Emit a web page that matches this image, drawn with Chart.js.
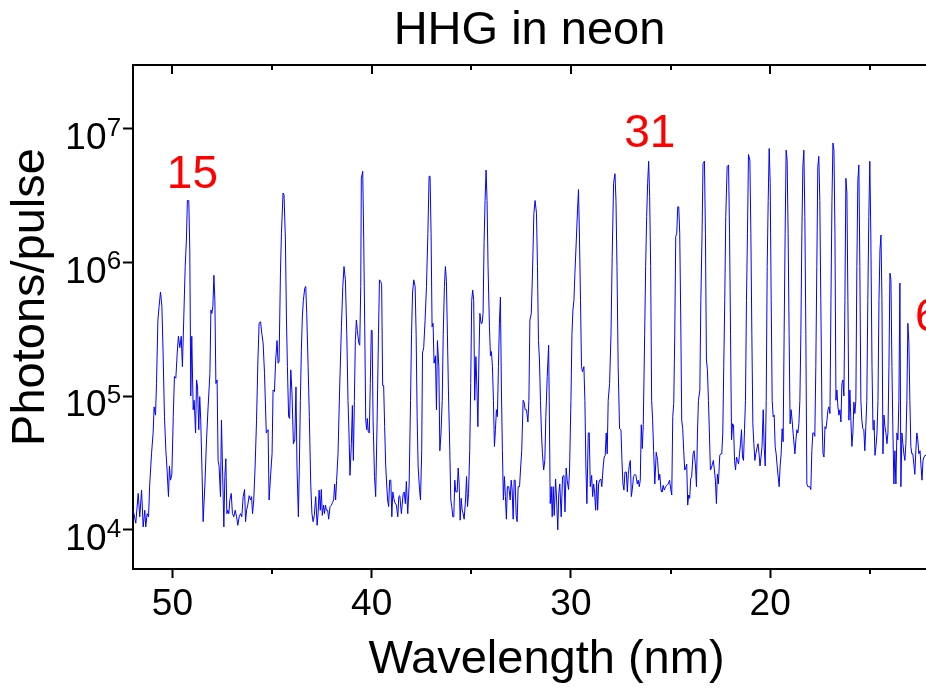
<!DOCTYPE html>
<html>
<head>
<meta charset="utf-8">
<title>HHG in neon</title>
<script src="https://cdn.jsdelivr.net/npm/chart.js@4.4.1/dist/chart.umd.min.js"></script>
<style>
  html, body { margin: 0; padding: 0; background: #fff; }
  #wrap { width: 926px; height: 691px; position: relative; }
</style>
</head>
<body>
<div id="wrap"><canvas id="hhgChart"></canvas></div>
<script>
// wavelength (nm) of each spectrometer sample
const wavelengths = [
  51.97, 51.84, 51.72, 51.64, 51.55, 51.47, 51.39, 51.34, 51.27, 51.20,
  51.14, 51.05, 50.97, 50.92, 50.85, 50.80, 50.73, 50.67, 50.60, 50.53,
  50.47, 50.40, 50.33, 50.27, 50.20, 50.15, 50.10, 50.03, 49.96, 49.90,
  49.83, 49.76, 49.70, 49.63, 49.56, 49.50, 49.43, 49.36, 49.30, 49.25,
  49.18, 49.13, 49.08, 49.03, 48.96, 48.91, 48.84, 48.79, 48.74, 48.68,
  48.63, 48.58, 48.51, 48.46, 48.37, 48.29, 48.21, 48.12, 48.07, 48.02,
  47.97, 47.92, 47.87, 47.82, 47.76, 47.71, 47.66, 47.59, 47.54, 47.49,
  47.42, 47.37, 47.32, 47.27, 47.22, 47.17, 47.12, 47.05, 46.99, 46.92,
  46.85, 46.78, 46.72, 46.65, 46.58, 46.52, 46.45, 46.38, 46.33, 46.28,
  46.22, 46.15, 46.08, 46.03, 45.98, 45.92, 45.85, 45.78, 45.71, 45.65,
  45.58, 45.51, 45.45, 45.38, 45.29, 45.20, 45.15, 45.07, 45.00, 44.95,
  44.88, 44.82, 44.75, 44.70, 44.65, 44.58, 44.53, 44.45, 44.40, 44.33,
  44.28, 44.23, 44.17, 44.12, 44.06, 44.00, 43.93, 43.86, 43.80, 43.75,
  43.68, 43.63, 43.58, 43.53, 43.48, 43.43, 43.36, 43.31, 43.26, 43.19,
  43.13, 43.06, 43.00, 42.94, 42.88, 42.81, 42.74, 42.69, 42.64, 42.58,
  42.53, 42.48, 42.42, 42.37, 42.32, 42.27, 42.21, 42.16, 42.09, 42.02,
  41.97, 41.91, 41.86, 41.81, 41.76, 41.69, 41.61, 41.52, 41.45, 41.39,
  41.32, 41.25, 41.19, 41.14, 41.09, 41.02, 40.97, 40.92, 40.87, 40.82,
  40.77, 40.72, 40.65, 40.60, 40.55, 40.52, 40.45, 40.40, 40.35, 40.30,
  40.25, 40.22, 40.17, 40.12, 40.07, 40.02, 39.98, 39.93, 39.86, 39.80,
  39.73, 39.66, 39.61, 39.55, 39.50, 39.45, 39.40, 39.35, 39.30, 39.25,
  39.20, 39.15, 39.10, 39.04, 38.99, 38.94, 38.89, 38.84, 38.76, 38.69,
  38.64, 38.59, 38.51, 38.42, 38.37, 38.31, 38.26, 38.19, 38.12, 38.05,
  38.00, 37.95, 37.89, 37.82, 37.77, 37.72, 37.67, 37.60, 37.55, 37.49,
  37.45, 37.39, 37.32, 37.25, 37.18, 37.12, 37.07, 37.02, 36.97, 36.92,
  36.87, 36.80, 36.75, 36.70, 36.63, 36.58, 36.52, 36.46, 36.41, 36.35,
  36.30, 36.25, 36.20, 36.15, 36.08, 36.03, 35.98, 35.93, 35.88, 35.83,
  35.78, 35.71, 35.66, 35.61, 35.56, 35.51, 35.46, 35.41, 35.36, 35.29,
  35.24, 35.19, 35.14, 35.08, 35.03, 34.98, 34.93, 34.88, 34.83, 34.77,
  34.72, 34.67, 34.62, 34.57, 34.51, 34.46, 34.41, 34.36, 34.31, 34.26,
  34.21, 34.16, 34.09, 34.04, 33.99, 33.94, 33.89, 33.84, 33.79, 33.74,
  33.69, 33.64, 33.59, 33.54, 33.49, 33.44, 33.39, 33.34, 33.29, 33.24,
  33.19, 33.12, 33.05, 33.00, 32.95, 32.90, 32.85, 32.80, 32.75, 32.70,
  32.65, 32.58, 32.52, 32.47, 32.40, 32.35, 32.30, 32.23, 32.16, 32.11,
  32.06, 31.99, 31.93, 31.86, 31.80, 31.73, 31.68, 31.63, 31.58, 31.53,
  31.48, 31.43, 31.37, 31.31, 31.26, 31.19, 31.12, 31.09, 31.04, 30.99,
  30.94, 30.89, 30.84, 30.77, 30.72, 30.66, 30.61, 30.56, 30.49, 30.42,
  30.35, 30.30, 30.24, 30.19, 30.12, 30.07, 30.00, 29.95, 29.90, 29.85,
  29.80, 29.73, 29.67, 29.62, 29.57, 29.52, 29.47, 29.42, 29.35, 29.30,
  29.25, 29.20, 29.13, 29.08, 29.03, 28.96, 28.91, 28.86, 28.81, 28.76,
  28.71, 28.66, 28.61, 28.56, 28.50, 28.45, 28.38, 28.33, 28.28, 28.23,
  28.18, 28.13, 28.06, 27.99, 27.93, 27.86, 27.79, 27.74, 27.69, 27.63,
  27.56, 27.49, 27.44, 27.39, 27.34, 27.29, 27.22, 27.17, 27.12, 27.07,
  27.02, 26.97, 26.92, 26.86, 26.79, 26.74, 26.67, 26.62, 26.57, 26.52,
  26.47, 26.42, 26.37, 26.30, 26.25, 26.20, 26.15, 26.10, 26.05, 26.00,
  25.95, 25.90, 25.85, 25.79, 25.72, 25.65, 25.59, 25.54, 25.48, 25.43,
  25.37, 25.32, 25.25, 25.18, 25.12, 25.05, 24.99, 24.94, 24.89, 24.84,
  24.79, 24.74, 24.69, 24.64, 24.59, 24.54, 24.49, 24.44, 24.39, 24.34,
  24.29, 24.24, 24.19, 24.14, 24.09, 24.04, 23.99, 23.94, 23.87, 23.82,
  23.75, 23.70, 23.65, 23.60, 23.53, 23.48, 23.42, 23.37, 23.30, 23.25,
  23.20, 23.15, 23.10, 23.05, 23.00, 22.95, 22.90, 22.85, 22.80, 22.75,
  22.70, 22.65, 22.60, 22.53, 22.48, 22.43, 22.38, 22.33, 22.28, 22.23,
  22.16, 22.09, 22.04, 21.99, 21.94, 21.89, 21.84, 21.79, 21.74, 21.69,
  21.64, 21.59, 21.54, 21.49, 21.44, 21.39, 21.34, 21.29, 21.24, 21.19,
  21.14, 21.09, 21.02, 20.97, 20.92, 20.87, 20.82, 20.77, 20.72, 20.66,
  20.61, 20.56, 20.51, 20.46, 20.41, 20.35, 20.30, 20.25, 20.20, 20.15,
  20.10, 20.05, 20.00, 19.95, 19.90, 19.85, 19.80, 19.75, 19.70, 19.65,
  19.60, 19.55, 19.50, 19.45, 19.40, 19.35, 19.30, 19.25, 19.20, 19.15,
  19.10, 19.05, 19.00, 18.95, 18.90, 18.85, 18.76, 18.71, 18.66, 18.61,
  18.56, 18.51, 18.46, 18.41, 18.36, 18.31, 18.26, 18.21, 18.16, 18.11,
  18.06, 18.01, 17.96, 17.91, 17.86, 17.81, 17.76, 17.71, 17.66, 17.61,
  17.56, 17.51, 17.46, 17.40, 17.35, 17.30, 17.25, 17.20, 17.15, 17.10,
  17.05, 17.00, 16.95, 16.90, 16.85, 16.80, 16.75, 16.70, 16.65, 16.60,
  16.55, 16.50, 16.45, 16.40, 16.35, 16.30, 16.25, 16.20, 16.15, 16.10,
  16.05, 16.00, 15.95, 15.90, 15.85, 15.80, 15.75, 15.70, 15.65, 15.60,
  15.55, 15.50, 15.45, 15.40, 15.35, 15.30, 15.25, 15.20, 15.15, 15.10,
  15.05, 15.00, 14.95, 14.89, 14.84, 14.79, 14.74, 14.69, 14.64, 14.59,
  14.54, 14.49, 14.44, 14.39, 14.34, 14.29, 14.24, 14.19, 14.14, 14.09,
  14.04, 13.99, 13.94, 13.89, 13.84, 13.79, 13.74, 13.69, 13.64, 13.59,
  13.54, 13.49, 13.44, 13.39, 13.34, 13.29, 13.24, 13.19, 13.14, 13.09,
  13.04, 12.99, 12.94, 12.89, 12.84, 12.79, 12.74, 12.69, 12.64, 12.59,
  12.54, 12.48, 12.43, 12.38, 12.33, 12.28, 12.23, 12.18
];

// photons per pulse at each wavelength above
const photons = [
  1.4e4, 1.12e4, 1.87e4, 1.25e4, 1.98e4, 1.05e4, 1.4e4, 1.05e4, 1.32e4, 1.25e4,
  2.2e4, 3.7e4, 5.3e4, 8.3e4, 7.2e4, 1.24e5, 3.7e5, 4.7e5, 6.0e5, 4.7e5,
  2.1e5, 7.0e4, 3.9e4, 2.8e4, 1.77e4, 3.0e4, 2.35e4, 2.6e4, 7.0e4, 1.4e5,
  1.36e5, 2.1e5, 2.8e5, 2.3e5, 2.8e5, 1.66e5, 3.9e5, 9.3e5, 1.47e6, 2.9e6,
  2.9e6, 1.24e6, 1.0e5, 2.8e5, 7.9e4, 9.3e4, 5.3e4, 1.32e5, 1.17e5, 5.6e4,
  9.9e4, 6.6e4, 2.5e4, 1.15e4, 2.2e4, 4.7e4, 8.3e4, 1.48e5, 4.4e5, 4.15e5,
  4.7e5, 8.0e5, 5.2e5, 1.24e5, 1.32e5, 3.3e4, 3.0e4, 1.77e4, 6.6e4, 3.0e4,
  1.05e4, 2.5e4, 3.4e4, 1.32e4, 1.4e4, 1.32e4, 1.67e4, 1.87e4, 1.32e4, 1.25e4,
  1.4e4, 1.25e4, 1.08e4, 1.25e4, 1.32e4, 1.25e4, 1.77e4, 2.0e4, 1.15e4, 1.4e4,
  1.53e4, 1.8e4, 1.67e4, 1.77e4, 1.32e4, 1.67e4, 3.0e4, 6.6e4, 1.86e5, 3.5e5,
  3.6e5, 2.9e5, 2.5e5, 1.48e5, 5.3e4, 5.6e4, 1.67e4, 2.6e4, 3.7e4, 1.11e5,
  1.08e5, 1.86e5, 2.6e5, 1.76e5, 1.8e5, 8.3e5, 1.65e6, 3.3e6, 3.2e6, 1.47e6,
  3.9e5, 1.66e5, 7.0e4, 6.8e4, 1.57e5, 1.05e5, 4.4e4, 4.7e4, 1.17e5, 3.0e4,
  1.25e4, 3.0e4, 9.3e4, 2.2e5, 3.9e5, 5.2e5, 6.4e5, 6.6e5, 4.15e5, 1.66e5,
  7.0e4, 2.2e4, 1.32e4, 1.15e4, 1.28e4, 1.77e4, 1.08e4, 1.32e4, 1.98e4, 1.4e4,
  2.0e4, 1.28e4, 1.53e4, 1.32e4, 1.53e4, 1.4e4, 1.4e4, 1.2e4, 1.49e4, 1.53e4,
  1.6e4, 1.67e4, 2.2e4, 1.67e4, 2.35e4, 3.7e4, 1.11e5, 3.3e5, 6.6e5, 9.3e5,
  7.4e5, 2.9e5, 9.3e4, 5.3e4, 2.55e4, 4.4e4, 8.5e4, 3.3e4, 9.3e4, 2.6e5,
  3.7e5, 3.1e5, 2.5e5, 2.4e5, 6.6e5, 4.25e6, 4.8e6, 1.47e6, 3.3e5, 6.6e4,
  5.6e4, 6.8e4, 5.4e4, 5.3e4, 1.24e5, 3.1e5, 3.1e5, 6.6e4, 2.5e4, 1.77e4,
  6.2e4, 2.9e5, 7.4e5, 7.2e5, 6.8e5, 1.2e5, 1.2e5, 5.9e4, 3.1e4, 2.2e4,
  1.67e4, 1.49e4, 2.35e4, 2.35e4, 1.25e4, 1.92e4, 1.72e4, 1.6e4, 1.53e4, 1.25e4,
  1.77e4, 1.8e4, 1.32e4, 1.87e4, 1.92e4, 1.57e4, 2.3e4, 1.32e4, 2.2e4, 9.3e4,
  2.9e5, 5.9e5, 7.4e5, 6.6e5, 2.9e5, 7.0e4, 3.0e4, 2.0e4, 1.67e4, 3.9e4,
  2.1e5, 2.3e5, 3.7e5, 6.6e5, 1.65e6, 4.4e6, 4.4e6, 1.65e6, 3.3e5, 3.5e5,
  1.76e5, 2.0e5, 7.9e4, 2.6e5, 1.66e5, 3.9e4, 5.3e4, 9.3e4, 2.9e5, 6.6e5,
  9.3e5, 7.2e5, 2.9e5, 1.11e5, 3.9e4, 1.67e4, 1.49e4, 1.25e4, 1.25e4, 2.35e4,
  1.92e4, 1.92e4, 2.9e4, 2.2e4, 1.18e4, 1.72e4, 1.4e4, 1.32e4, 1.2e4, 1.67e4,
  2.5e4, 1.49e4, 1.87e4, 3.9e4, 1.24e5, 5.2e5, 6.2e5, 5.2e5, 9.3e4, 1.97e5,
  1.17e5, 5.9e4, 1.86e5, 4.15e5, 3.5e5, 3.5e5, 4.15e5, 1.4e6, 2.9e6, 4.9e6,
  2.9e6, 9.3e5, 3.3e5, 2.0e5, 2.15e5, 1.66e5, 9.3e4, 4.2e4, 5.6e4, 7.9e4,
  7.0e4, 1.66e5, 3.5e5, 5.5e5, 1.11e5, 3.9e4, 1.67e4, 2.5e4, 1.77e4, 1.2e4,
  2.1e4, 2.1e4, 1.67e4, 2.35e4, 1.98e4, 1.2e4, 2.35e4, 2.35e4, 1.28e4, 1.15e4,
  2.1e4, 2.1e4, 3.0e4, 3.9e4, 9.3e4, 9.0e4, 7.9e4, 7.9e4, 6.4e4, 9.3e4,
  3.7e5, 4.15e5, 8.3e5, 2.33e6, 2.9e6, 2.33e6, 9.3e5, 2.6e5, 1.86e5, 9.3e4,
  5.3e4, 3.7e4, 2.8e4, 3.3e4, 7.0e4, 1.4e5, 2.4e5, 9.3e4, 1.57e4, 2.1e4,
  1.25e4, 2.1e4, 1.28e4, 2.4e4, 1.67e4, 1.0e4, 1.87e4, 2.2e4, 1.25e4, 2.5e4,
  2.55e4, 1.36e4, 2.9e4, 2.35e4, 2.0e4, 2.8e4, 9.3e4, 2.9e5, 4.4e5, 5.2e5,
  8.3e5, 1.47e6, 2.47e6, 3.5e6, 1.47e6, 5.2e5, 1.66e5, 1.52e5, 1.66e5, 9.3e4,
  3.0e4, 1.57e4, 5.3e4, 5.3e4, 2.1e4, 2.55e4, 1.77e4, 2.2e4, 1.87e4, 1.4e4,
  2.35e4, 1.4e4, 2.2e4, 2.35e4, 2.4e4, 2.1e4, 3.0e4, 3.5e4, 3.6e4, 5.3e4,
  3.7e4, 9.3e4, 1.24e5, 2.9e5, 1.1e6, 3.9e6, 4.6e6, 2.9e6, 9.3e5, 1.66e5,
  5.7e4, 5.6e4, 3.3e4, 2.2e4, 1.98e4, 2.7e4, 2.7e4, 1.92e4, 2.6e4, 3.05e4,
  3.3e4, 1.77e4, 2.0e4, 2.5e4, 2.6e4, 2.55e4, 2.2e4, 2.35e4, 2.1e4, 2.35e4,
  6.1e4, 4.05e4, 6.1e4, 2.9e5, 9.3e5, 2.2e6, 3.9e6, 5.7e6, 3.1e6, 9.3e5,
  9.3e4, 6.6e4, 3.9e4, 2.2e4, 3.8e4, 3.3e4, 2.35e4, 2.6e4, 1.98e4, 1.92e4,
  2.15e4, 1.98e4, 2.1e4, 2.15e4, 2.2e4, 2.35e4, 2.0e4, 1.82e4, 7.0e4, 8.8e4,
  2.9e5, 1.56e6, 1.65e6, 2.6e6, 2.6e6, 1.65e6, 3.9e5, 6.6e4, 5.7e4, 3.9e4,
  2.8e4, 2.9e4, 3.1e4, 1.53e4, 1.82e4, 1.72e4, 2.4e4, 2.5e4, 3.7e4, 3.9e4,
  3.0e4, 2.1e4, 5.3e4, 9.3e4, 1.11e5, 5.2e5, 1.65e6, 5.5e6, 5.7e6, 1.65e6,
  1.86e5, 1.57e5, 9.3e4, 5.3e4, 2.8e4, 2.9e4, 3.1e4, 3.3e4, 2.8e4, 2.35e4,
  1.57e4, 2.6e4, 2.2e4, 3.6e4, 3.7e4, 3.7e4, 5.3e4, 1.66e5, 5.2e5, 2.2e6,
  5.2e6, 5.35e6, 1.65e6, 2.9e5, 4.7e4, 6.2e4, 6.1e4, 3.3e4, 2.8e4, 3.5e4,
  3.3e4, 3.1e4, 3.7e4, 4.4e4, 5.6e4, 3.5e4, 3.3e4, 5.6e4, 9.3e4, 5.2e5,
  1.65e6, 6.4e6, 5.8e6, 1.65e6, 2.9e5, 6.2e4, 4.4e4, 3.3e4, 3.7e4, 4.1e4,
  4.4e4, 3.7e4, 3.0e4, 3.5e4, 4.2e4, 7.9e4, 4.1e4, 3.0e4, 9.3e4, 9.3e5,
  2.9e6, 7.1e6, 3.9e6, 5.2e5, 9.3e4, 7.0e4, 7.2e4, 4.2e4, 3.7e4, 3.0e4,
  2.5e4, 2.1e4, 3.0e4, 3.7e4, 5.7e4, 4.55e4, 2.9e5, 1.65e6, 6.9e6, 5.8e6,
  1.65e6, 2.9e5, 6.2e4, 7.9e4, 6.6e4, 5.3e4, 3.7e4, 4.7e4, 5.6e4, 5.3e4,
  6.2e4, 9.3e4, 2.9e5, 1.65e6, 5.2e6, 6.9e6, 2.2e6, 2.9e5, 2.2e4, 2.1e4,
  2.1e4, 2.1e4, 2.0e4, 3.9e4, 5.3e4, 5.3e4, 5.0e4, 1.66e5, 9.3e5, 5.2e6,
  6.2e6, 2.9e6, 5.2e5, 7.0e4, 3.7e4, 3.5e4, 5.9e4, 5.7e4, 6.6e4, 7.9e4,
  8.3e4, 7.4e4, 5.2e5, 2.9e6, 7.8e6, 6.9e6, 1.65e6, 9.3e4, 1.11e5, 8.3e4,
  7.2e4, 7.9e4, 6.4e4, 1.24e5, 1.32e5, 1.0e5, 5.2e5, 4.25e6, 3.3e6, 5.2e5,
  6.6e4, 1.11e5, 6.6e4, 4.2e4, 5.3e4, 9.0e4, 7.4e4, 9.3e4, 9.3e5, 4.1e6,
  5.35e6, 9.3e5, 9.3e4, 6.6e4, 5.7e4, 5.6e4, 3.9e4, 5.9e4, 9.3e4, 5.2e5,
  2.2e6, 5.7e6, 1.65e6, 1.66e5, 5.6e4, 6.6e4, 3.6e4, 4.2e4, 5.3e4, 9.3e4,
  5.2e5, 1.24e6, 1.6e6, 5.2e5, 3.7e4, 7.2e4, 5.9e4, 5.3e4, 4.4e4, 5.3e4,
  1.66e5, 8.3e5, 7.4e5, 1.66e5, 5.3e4, 2.2e4, 3.9e4, 2.2e4, 5.3e4, 4.7e4,
  9.3e4, 7.0e5, 2.1e4, 5.3e4, 4.4e4, 3.7e4, 3.3e4, 4.4e4, 9.3e4, 3.5e5,
  2.5e5, 9.3e4, 4.2e4, 3.7e4, 3.7e4, 3.1e4, 2.6e4, 3.9e4, 5.3e4, 4.7e4,
  3.7e4, 3.9e4, 3.0e4, 2.35e4, 3.3e4, 3.5e4, 3.6e4, 3.6e4
];

const xMajorTicks = [50, 40, 30, 20];
const xMinorTicks = [45, 35, 25, 15];
const yTicks = [1e4, 1e5, 1e6, 1e7];

// harmonic order labels (red), placed in data coordinates
const harmonicLabels = ['15', '31', '61'];
const labelWavelengths = [49.0, 26.04, 11.45];
const labelPhotons = [4.5e6, 9.0e6, 3.8e5];

const fontFamily = "'Liberation Sans', Arial, Helvetica, sans-serif";
Chart.defaults.font.family = fontFamily;
Chart.defaults.color = '#000';

// top frame, minor ticks, decade exponents, axis titles, harmonic labels
const extras = {
  id: 'extras',
  afterDraw(chart) {
    const { ctx, chartArea: area, scales: { x, y } } = chart;
    ctx.save();
    ctx.strokeStyle = '#000';
    ctx.lineWidth = 2;
    ctx.beginPath();
    ctx.moveTo(area.left - 1, area.top);
    ctx.lineTo(area.right, area.top);
    xMajorTicks.forEach(v => {
      const px = Math.round(x.getPixelForValue(v));
      ctx.moveTo(px, area.top);
      ctx.lineTo(px, area.top + 9);
    });
    xMinorTicks.forEach(v => {
      const px = Math.round(x.getPixelForValue(v));
      ctx.moveTo(px, area.top);
      ctx.lineTo(px, area.top + 5);
      ctx.moveTo(px, area.bottom);
      ctx.lineTo(px, area.bottom + 5);
    });
    ctx.stroke();

    ctx.fillStyle = '#000';
    ctx.font = '26px ' + fontFamily;
    ctx.textAlign = 'left';
    ctx.textBaseline = 'alphabetic';
    yTicks.forEach(v => {
      ctx.fillText(String(Math.round(Math.log10(v))), area.left - 26.3, y.getPixelForValue(v) + 7);
    });

    ctx.font = '47px ' + fontFamily;
    ctx.textAlign = 'center';
    ctx.textBaseline = 'middle';
    ctx.fillText('Wavelength (nm)', (area.left + area.right) / 2 + 17, area.bottom + 91);
    ctx.save();
    ctx.translate(31, (area.top + area.bottom) / 2 - 20);
    ctx.rotate(-Math.PI / 2);
    ctx.fillText('Photons/pulse', 0, 0);
    ctx.restore();

    ctx.fillStyle = '#ff0000';
    ctx.font = '46px ' + fontFamily;
    harmonicLabels.forEach((t, i) => {
      ctx.fillText(t, x.getPixelForValue(labelWavelengths[i]), y.getPixelForValue(labelPhotons[i]));
    });
    ctx.restore();
  }
};

new Chart(document.getElementById('hhgChart'), {
  type: 'line',
  data: {
    datasets: [{
      data: wavelengths.map((w, i) => ({ x: w, y: photons[i] })),
      borderColor: '#0000ff',
      borderWidth: 1,
      pointRadius: 0,
      fill: false,
      tension: 0
    }]
  },
  options: {
    responsive: true,
    maintainAspectRatio: false,
    animation: false,
    devicePixelRatio: 1,
    layout: { padding: 0 },
    plugins: {
      legend: { display: false },
      tooltip: { enabled: false },
      title: {
        display: true,
        text: 'HHG in neon',
        fullSize: false,
        color: '#000',
        font: { size: 47, weight: 'normal' },
        padding: { top: 3, bottom: 5.6 }
      }
    },
    scales: {
      x: {
        type: 'linear',
        reverse: true,
        min: 12.18,
        max: 51.98,
        afterBuildTicks: axis => { axis.ticks = xMajorTicks.map(v => ({ value: v })); },
        afterFit: axis => { axis.height = 122; },
        grid: { drawOnChartArea: false, tickLength: 9, tickWidth: 2, tickColor: '#000' },
        border: { color: '#000', width: 2 },
        ticks: { font: { size: 37 }, color: '#000', padding: 5, maxRotation: 0, autoSkip: false }
      },
      y: {
        type: 'logarithmic',
        min: 5090,
        max: 2.99e7,
        afterBuildTicks: axis => { axis.ticks = yTicks.map(v => ({ value: v })); },
        afterFit: axis => { axis.width = 133; },
        grid: { drawOnChartArea: false, tickLength: 10, tickWidth: 2, tickColor: '#000' },
        border: { color: '#000', width: 2 },
        ticks: { font: { size: 37 }, color: '#000', padding: 16.5, labelOffset: 10, autoSkip: false, callback: () => '10' }
      }
    }
  },
  plugins: [extras]
});
</script>
</body>
</html>
